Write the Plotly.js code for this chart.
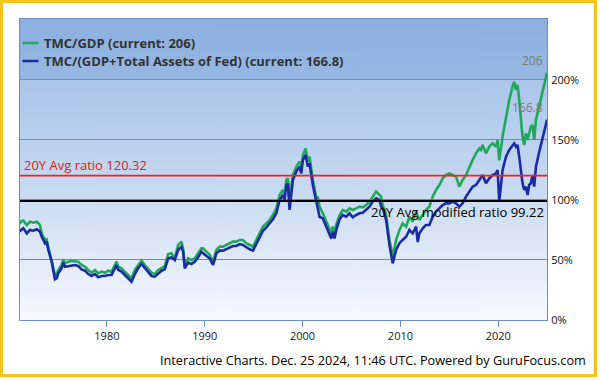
<!DOCTYPE html>
<html><head><meta charset="utf-8">
<script src="https://cdn.plot.ly/plotly-3.0.1.min.js"></script>
<style>
html,body{margin:0;padding:0;background:#fff;}
#wrap{position:relative;width:600px;height:380px;}
#chart{width:600px;height:380px;}
#frame{position:absolute;left:0;top:0;width:597px;height:377px;box-sizing:border-box;border:3px solid #f7c21a;pointer-events:none;}
</style></head><body>
<div id="wrap"><div id="chart"></div><div id="frame"></div></div>
<script>
// ---- data ----
const years = [1971.10,1971.22,1971.46,1971.81,1972.14,1972.48,1972.83,1973.16,1973.34,1973.67,1973.84,1974.01,1974.36,1974.69,1974.87,1975.03,1975.38,1975.54,1975.71,1976.05,1976.40,1976.73,1977.07,1977.42,1977.76,1978.09,1978.44,1978.78,1979.11,1979.46,1979.80,1980.13,1980.48,1980.82,1980.99,1981.15,1981.50,1981.84,1982.17,1982.52,1982.86,1983.19,1983.54,1983.88,1984.21,1984.56,1984.90,1985.23,1985.58,1985.92,1986.26,1986.60,1986.94,1987.28,1987.62,1987.79,1987.96,1988.30,1988.64,1988.98,1989.32,1989.66,1989.83,1990.17,1990.51,1990.85,1991.19,1991.53,1991.87,1992.21,1992.55,1992.89,1993.23,1993.57,1993.91,1994.26,1994.59,1994.93,1995.28,1995.61,1995.95,1996.30,1996.63,1996.97,1997.32,1997.65,1997.99,1998.16,1998.34,1998.50,1998.67,1998.85,1999.01,1999.36,1999.69,1999.87,2000.03,2000.31,2000.54,2000.71,2000.89,2001.05,2001.22,2001.40,2001.56,2001.73,2002.07,2002.42,2002.76,2002.93,2003.09,2003.27,2003.44,2003.78,2004.11,2004.46,2004.80,2005.13,2005.48,2005.82,2006.15,2006.50,2006.84,2007.17,2007.52,2007.86,2008.03,2008.19,2008.54,2008.88,2009.05,2009.21,2009.56,2009.90,2010.23,2010.58,2010.92,2011.26,2011.60,2011.77,2011.94,2012.28,2012.62,2012.96,2013.30,2013.64,2013.98,2014.32,2014.66,2015.00,2015.34,2015.68,2016.02,2016.36,2016.70,2017.04,2017.38,2017.72,2018.06,2018.23,2018.40,2018.74,2019.08,2019.42,2019.77,2019.93,2020.10,2020.44,2020.79,2021.12,2021.46,2021.63,2021.81,2021.97,2022.14,2022.32,2022.48,2022.65,2022.83,2022.99,2023.16,2023.33,2023.50,2023.67,2023.85,2024.18,2024.52,2024.69,2024.98];
const tmcGdp = [80.0,82.0,82.8,79.2,81.9,81.1,81.9,79.2,72.2,66.7,67.2,61.1,51.4,37.5,37.5,41.7,45.8,50.6,47.2,48.6,49.2,49.2,48.6,45.8,44.4,41.7,39.4,41.7,38.9,40.3,39.4,41.1,40.3,45.8,48.6,44.4,43.1,40.3,37.5,34.7,41.7,45.8,49.4,45.8,43.1,39.4,38.3,41.7,43.1,45.0,55.0,55.6,51.4,62.5,65.3,59.7,45.8,51.4,50.0,51.4,55.6,59.7,59.7,56.9,54.2,48.6,58.3,61.1,61.1,62.5,63.9,65.3,65.3,66.7,66.7,63.9,62.5,61.1,66.7,72.2,77.8,80.5,83.3,87.5,93.0,104.2,108.3,104.2,116.7,118.0,104.2,111.0,120.8,127.8,132.0,126.4,137.5,143.0,132.0,136.0,123.6,116.7,109.7,101.4,102.8,94.4,88.9,82.0,75.0,72.2,77.8,72.2,79.2,87.5,91.7,90.3,93.0,91.7,93.0,94.4,93.9,95.8,98.6,102.8,107.0,104.2,102.8,95.8,87.5,66.7,59.7,53.0,66.7,75.0,80.5,77.8,86.0,82.0,90.3,86.1,83.3,87.5,91.7,94.4,102.8,108.3,112.5,118.0,120.8,122.2,120.8,119.4,111.1,116.7,120.8,127.8,133.3,138.9,143.0,141.7,145.8,138.9,144.4,147.2,144.4,150.0,133.0,152.8,169.4,183.3,194.4,198.6,191.7,195.8,183.3,169.4,152.8,145.8,155.6,150.0,156.9,161.1,162.5,150.0,166.7,177.8,188.9,194.4,206.0];
const tmcGdpFed = [73.6,75.0,76.4,72.2,75.0,74.4,75.6,73.6,69.4,63.9,65.3,58.3,48.6,33.9,34.7,38.9,43.1,47.8,44.4,45.0,45.8,45.8,45.0,42.2,41.1,38.3,36.7,38.3,35.6,36.7,36.7,37.5,37.5,43.1,45.8,41.7,40.3,37.5,34.7,31.9,38.3,43.1,46.7,43.1,40.3,36.7,36.1,38.9,41.1,42.2,51.4,52.2,50.0,58.3,61.1,56.9,43.1,47.8,46.7,48.6,52.2,56.9,55.6,53.3,51.4,45.8,55.6,57.8,57.8,58.9,60.6,61.7,61.7,63.3,62.5,60.6,58.9,57.8,63.3,68.9,74.4,77.2,80.5,83.9,88.9,100.0,104.2,100.0,112.5,113.9,91.7,106.9,116.7,123.6,127.8,122.2,133.3,137.5,127.8,130.6,119.4,112.5,105.6,97.2,93.0,86.0,84.7,77.8,70.8,68.0,73.6,68.0,75.0,83.9,87.5,86.1,88.9,85.6,87.5,88.9,89.4,91.7,94.4,98.6,101.4,100.0,94.4,93.0,83.3,62.5,55.6,47.2,58.3,64.0,66.7,69.4,75.0,72.2,77.8,65.0,72.2,76.4,79.2,79.2,86.1,90.3,93.0,95.8,97.2,97.2,98.6,97.2,94.4,97.2,102.8,106.9,111.1,112.5,116.7,119.4,120.8,113.9,118.0,120.8,122.2,125.0,98.6,125.0,136.1,141.7,145.8,147.2,144.4,145.8,136.1,125.0,113.9,108.3,111.1,104.2,112.5,113.9,120.8,111.1,127.8,140.0,150.0,156.9,166.8];
const seriesNames = ['TMC/GDP (current: 206)', 'TMC/(GDP+Total Assets of Fed) (current: 166.8)'];
const currentValues = ['206', '166.8'];
const avgRatio = 120.32;
const avgModifiedRatio = 99.22;
const avgRatioLabel = '20Y Avg ratio 120.32';
const avgModifiedLabel = '20Y Avg modified ratio 99.22';
const yTickVals = [0, 50, 100, 150, 200];
const yTickText = ['0%', '50%', '100%', '150%', '200%'];
const xTickVals = [1980, 1990, 2000, 2010, 2020];
const footer = 'Interactive Charts. Dec. 25 2024, 11:46 UTC. Powered by GuruFocus.com';

// ---- background gradient of the plot area ----
function gradientImage() {
  const c = document.createElement('canvas');
  c.width = 4; c.height = 301;
  const ctx = c.getContext('2d');
  let g1 = ctx.createLinearGradient(0, 0, 0, 61);
  g1.addColorStop(0, '#8cafdf'); g1.addColorStop(1, '#97b8e3');
  ctx.fillStyle = g1; ctx.fillRect(0, 0, 4, 61);
  let g2 = ctx.createLinearGradient(0, 61, 0, 301);
  g2.addColorStop(0, '#a9c5ea'); g2.addColorStop(0.5, '#cbdcf2'); g2.addColorStop(1, '#f7f9fe');
  ctx.fillStyle = g2; ctx.fillRect(0, 61, 4, 240);
  return c.toDataURL();
}

const FONT = 'Open Sans, Liberation Sans, sans-serif';
const colors = ['#20a85a', '#1a2ba3'];
const last = years.length - 1;

const traces = [
  {x: years, y: tmcGdp, name: seriesNames[0], type: 'scatter', mode: 'lines',
   line: {color: colors[0], width: 2.6}},
  {x: years, y: tmcGdpFed, name: seriesNames[1], type: 'scatter', mode: 'lines',
   line: {color: colors[1], width: 2.6}}
];

// plot area geometry (px) used to place the compact legend
const PW = 527, PH = 301;
const legendRows = [43, 61];   // legend row centres, px from the top of the page
const legendShapes = seriesNames.map((n, i) => ({
  type: 'line', xref: 'paper', yref: 'paper',
  x0: 2.5 / PW, x1: 18.5 / PW, y0: (320 - legendRows[i]) / PH, y1: (320 - legendRows[i]) / PH,
  line: {color: colors[i], width: 2.5}
}));
const legendTexts = seriesNames.map((n, i) => ({
  text: '<b>' + n + '</b>', xref: 'paper', yref: 'paper', x: 0, y: (320 - legendRows[i]) / PH,
  xanchor: 'left', yanchor: 'middle', xshift: 22, showarrow: false,
  font: {family: FONT, size: 13, color: '#333'}
}));

const layout = {
  width: 600, height: 380, autosize: false,
  margin: {l: 20, r: 53, t: 19, b: 60, pad: 0},
  paper_bgcolor: '#ffffff', plot_bgcolor: 'rgba(0,0,0,0)',
  font: {family: FONT, size: 11, color: '#000'},
  showlegend: false,
  xaxis: {range: [1971.12, 2024.98], tickvals: xTickVals, ticks: 'outside', ticklen: 6,
    tickcolor: '#6b8fc5', showgrid: false, zeroline: false, showline: true, mirror: true,
    linecolor: '#6b8fc5', linewidth: 1, tickfont: {family: FONT, size: 11, color: '#222'}},
  yaxis: {range: [0, 250.8], side: 'right', tickvals: yTickVals, ticktext: yTickText,
    ticks: '', ticklabelstandoff: 1, showgrid: true, gridcolor: '#5f8fd3', gridwidth: 1,
    zeroline: false, showline: true, mirror: true, linecolor: '#6b8fc5', linewidth: 1,
    tickfont: {family: FONT, size: 11, color: '#111'}},
  images: [{source: gradientImage(), xref: 'paper', yref: 'paper', x: 0, y: 1,
    sizex: 1, sizey: 1, sizing: 'stretch', layer: 'below', xanchor: 'left', yanchor: 'top'}],
  shapes: [
    {type: 'line', xref: 'paper', yref: 'y', x0: 0, x1: 1, y0: avgRatio, y1: avgRatio,
     line: {color: '#e82424', width: 1.6}},
    {type: 'line', xref: 'paper', yref: 'y', x0: 0, x1: 1, y0: avgModifiedRatio, y1: avgModifiedRatio,
     line: {color: '#000', width: 2}}
  ].concat(legendShapes),
  annotations: [
    {text: avgRatioLabel, xref: 'paper', yref: 'y', x: 0, y: avgRatio, xanchor: 'left',
     yanchor: 'middle', xshift: 2, yshift: 11, showarrow: false,
     font: {family: FONT, size: 13, color: '#d92323'}},
    {text: avgModifiedLabel, xref: 'paper', yref: 'y', x: 1, y: avgModifiedRatio, xanchor: 'right',
     yanchor: 'middle', xshift: -1, yshift: -11, showarrow: false,
     font: {family: FONT, size: 13, color: '#000'}},
    {text: currentValues[0], xref: 'x', yref: 'y', x: years[last], y: tmcGdp[last], xanchor: 'right',
     yanchor: 'middle', xshift: -2, yshift: 12, showarrow: false,
     font: {family: FONT, size: 12, color: '#7a7a7a'}},
    {text: currentValues[1], xref: 'x', yref: 'y', x: years[last], y: tmcGdpFed[last], xanchor: 'right',
     yanchor: 'middle', xshift: -2, yshift: 12, showarrow: false,
     font: {family: FONT, size: 12, color: '#7a7a7a'}},
    {text: footer, xref: 'paper', yref: 'paper', x: 1, y: -0.133, xanchor: 'right',
     yanchor: 'middle', xshift: 41, showarrow: false, font: {family: FONT, size: 12.7, color: '#000'}}
  ].concat(legendTexts)
};

Plotly.newPlot('chart', traces, layout, {displayModeBar: false, staticPlot: true});
</script>
</body></html>
